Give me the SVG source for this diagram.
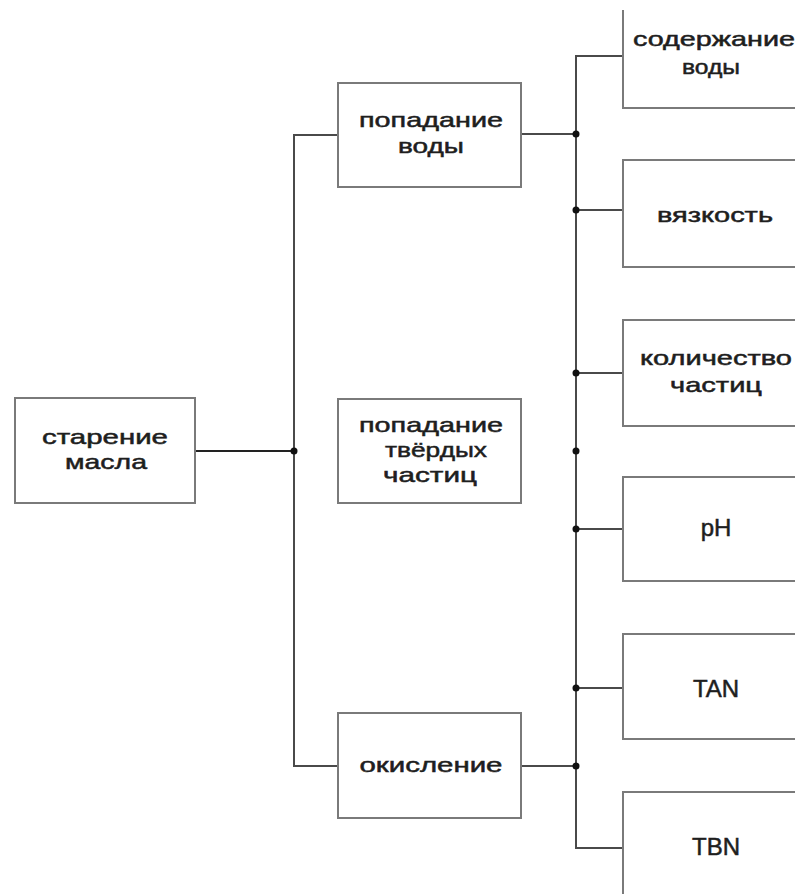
<svg xmlns="http://www.w3.org/2000/svg" width="795" height="894" viewBox="0 0 795 894">
<style>
.box{fill:#fff;stroke:#7a7a7a;stroke-width:2}
.ln{fill:none;stroke:#4a4a4a;stroke-width:2}
.dot{fill:#111}
text{font-family:"Liberation Sans",Arial,sans-serif;font-size:21px;fill:#1e1e1e;stroke:#1e1e1e;stroke-width:0.5;text-anchor:middle}
.big{font-size:24px}
</style>
<rect width="795" height="894" fill="#fff"/>
<g id="connectors">
<path class="ln" d="M195,451 H294" style="stroke:#222"/>
<path class="ln" d="M338,135 H294 V766 H338"/>
<path class="ln" d="M521,134 H576"/>
<path class="ln" d="M521,766 H576"/>
<path class="ln" d="M623,56 H576 V848 H623"/>
<path class="ln" d="M576,210 H623 M576,373 H623 M576,529 H623 M576,688 H623"/>
<circle class="dot" cx="294" cy="451" r="3.5"/>
<circle class="dot" cx="576" cy="134" r="3.5"/>
<circle class="dot" cx="576" cy="210" r="3.5"/>
<circle class="dot" cx="576" cy="373" r="3.5"/>
<circle class="dot" cx="576" cy="451" r="3.5"/>
<circle class="dot" cx="576" cy="529" r="3.5"/>
<circle class="dot" cx="576" cy="688" r="3.5"/>
<circle class="dot" cx="576" cy="766" r="3.5"/>
</g>
<g id="n-starenie">
<rect class="box" x="15" y="398" width="180" height="105"/>
<text x="105" y="444" textLength="126" lengthAdjust="spacingAndGlyphs">старение</text>
<text x="106" y="469" textLength="82" lengthAdjust="spacingAndGlyphs">масла</text>
</g>
<g id="n-voda">
<rect class="box" x="338" y="83" width="183" height="104"/>
<text x="431" y="127" textLength="144" lengthAdjust="spacingAndGlyphs">попадание</text>
<text x="431" y="153" textLength="66" lengthAdjust="spacingAndGlyphs">воды</text>
</g>
<g id="n-chastitsy">
<rect class="box" x="338" y="399" width="183" height="104"/>
<text x="431" y="432" textLength="144" lengthAdjust="spacingAndGlyphs">попадание</text>
<text x="436" y="457" textLength="102" lengthAdjust="spacingAndGlyphs">твёрдых</text>
<text x="430" y="482" textLength="94" lengthAdjust="spacingAndGlyphs">частиц</text>
</g>
<g id="n-okislenie">
<rect class="box" x="338" y="713" width="183" height="105"/>
<text x="431" y="772" textLength="143" lengthAdjust="spacingAndGlyphs">окисление</text>
</g>
<g id="n-soderzhanie">
<path class="box" d="M623,10 V108 H800"/>
<text x="714" y="46" textLength="162" lengthAdjust="spacingAndGlyphs">содержание</text>
<text x="711" y="74" textLength="58" lengthAdjust="spacingAndGlyphs">воды</text>
</g>
<g id="n-vyazkost">
<rect class="box" x="623" y="160" width="190" height="107"/>
<text x="715" y="222" textLength="116" lengthAdjust="spacingAndGlyphs">вязкость</text>
</g>
<g id="n-kolichestvo">
<rect class="box" x="623" y="320" width="190" height="106"/>
<text x="716" y="365" textLength="152" lengthAdjust="spacingAndGlyphs">количество</text>
<text x="716" y="392" textLength="92" lengthAdjust="spacingAndGlyphs">частиц</text>
</g>
<g id="n-ph">
<rect class="box" x="623" y="477" width="190" height="104"/>
<text class="big" x="716" y="536">pH</text>
</g>
<g id="n-tan">
<rect class="box" x="623" y="634" width="190" height="105"/>
<text class="big" x="716" y="697">TAN</text>
</g>
<g id="n-tbn">
<path class="box" d="M800,792 H623 V894"/>
<text class="big" x="716" y="855">TBN</text>
</g>
</svg>
